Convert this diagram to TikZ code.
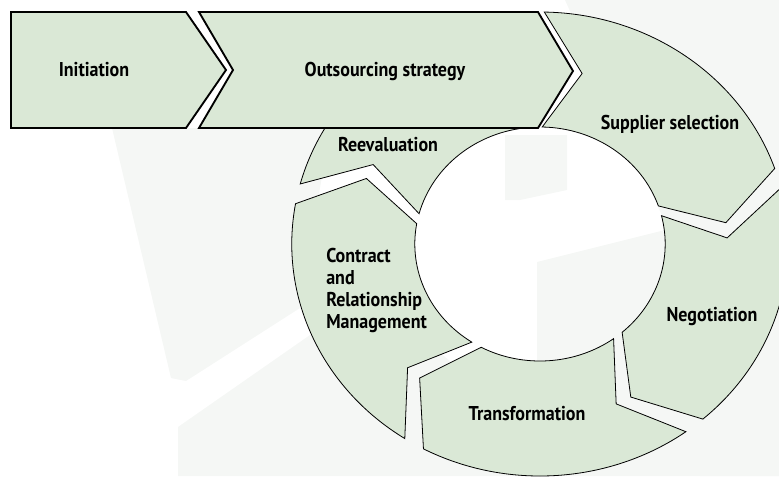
\documentclass[tikz,border=0pt]{standalone}
\usepackage{fontspec}
\setmainfont{PT Sans}[FakeStretch=0.9]
\definecolor{segfill}{RGB}{218,232,214}
\definecolor{faint}{RGB}{245,247,245}
% one piece of the ring: #1 start angle, #2 end angle (clockwise)
\newcommand{\cycseg}[2]{%
  \draw[seg] (#1:\rout) arc[start angle=#1, end angle=#2, radius=\rout]
    -- ({#2-\tipd}:\rmid) -- (#2:\rin)
    arc[start angle=#2, end angle=#1, radius=\rin]
    -- ({#1-\tipd}:\rmid) -- cycle;}
\begin{document}
\begin{tikzpicture}[x=0.75pt, y=0.75pt, line join=miter,
    seg/.style={draw=black, line width=0.6pt, fill=segfill},
    barseg/.style={draw=black, line width=1.4pt, fill=segfill},
    lbl/.style={font=\fontsize{15}{16.5}\selectfont\bfseries, inner sep=0pt},
    wm/.style={fill=faint, draw=none}]
  \def\rin{117}
  \def\rmid{175}
  \def\rout{232}
  \def\tipd{12}
  \useasboundingbox (0,0) rectangle (779,-476);
  % faint watermark
  \fill[wm] (112,-128) -- (171,-378) -- (186,-381) -- (300,-308) -- (330,-128) -- cycle;
  \fill[wm] (178,-427) -- (310,-335) -- (420,-335) -- (460,-370) -- (779,-370) -- (779,-476) -- (178,-476) -- cycle;
  \fill[wm] (537,-262) -- (665,-230) -- (665,-370) -- (537,-370) -- cycle;
  \fill[wm] (505,-135) -- (567,-135) -- (567,-190) -- (520,-200) -- (505,-200) -- cycle;
  \fill[wm] (565,0) -- (779,0) -- (779,-476) -- (700,-476) -- (700,-300) -- cycle;
  % the cycle
  \begin{scope}[shift={(540,-244)}, xscale=1.07]
    \cycseg{165}{95}
    \cycseg{89}{19}
    \cycseg{14}{-49}
    \cycseg{-54}{-118}
    \cycseg{-123}{-190}
  \end{scope}
  % the bar
  \draw[barseg] (11,-12) -- (186,-12) -- (226,-70) -- (186,-128) -- (11,-128) -- cycle;
  \draw[barseg] (199,-12) -- (538,-12) -- (573,-71) -- (538,-128) -- (199,-128) -- (233,-70) -- cycle;
  % labels
  \node[lbl, anchor=base] (init) at (94,-76) {Initiation};
  \node[lbl, anchor=base] (strat) at (385,-76) {Outsourcing strategy};
  \node[lbl, anchor=base] (reeval) at (388,-151) {Reevaluation};
  \node[lbl, anchor=base] (select) at (670,-129) {Supplier selection};
  \node[lbl, anchor=base] (negot) at (712,-321) {Negotiation};
  \node[lbl, anchor=base] (transf) at (527,-420) {Transformation};
  \node[lbl, anchor=north west, align=left] (contr) at (326,-248) {Contract\\and\\Relationship\\Management};
\end{tikzpicture}
\end{document}
